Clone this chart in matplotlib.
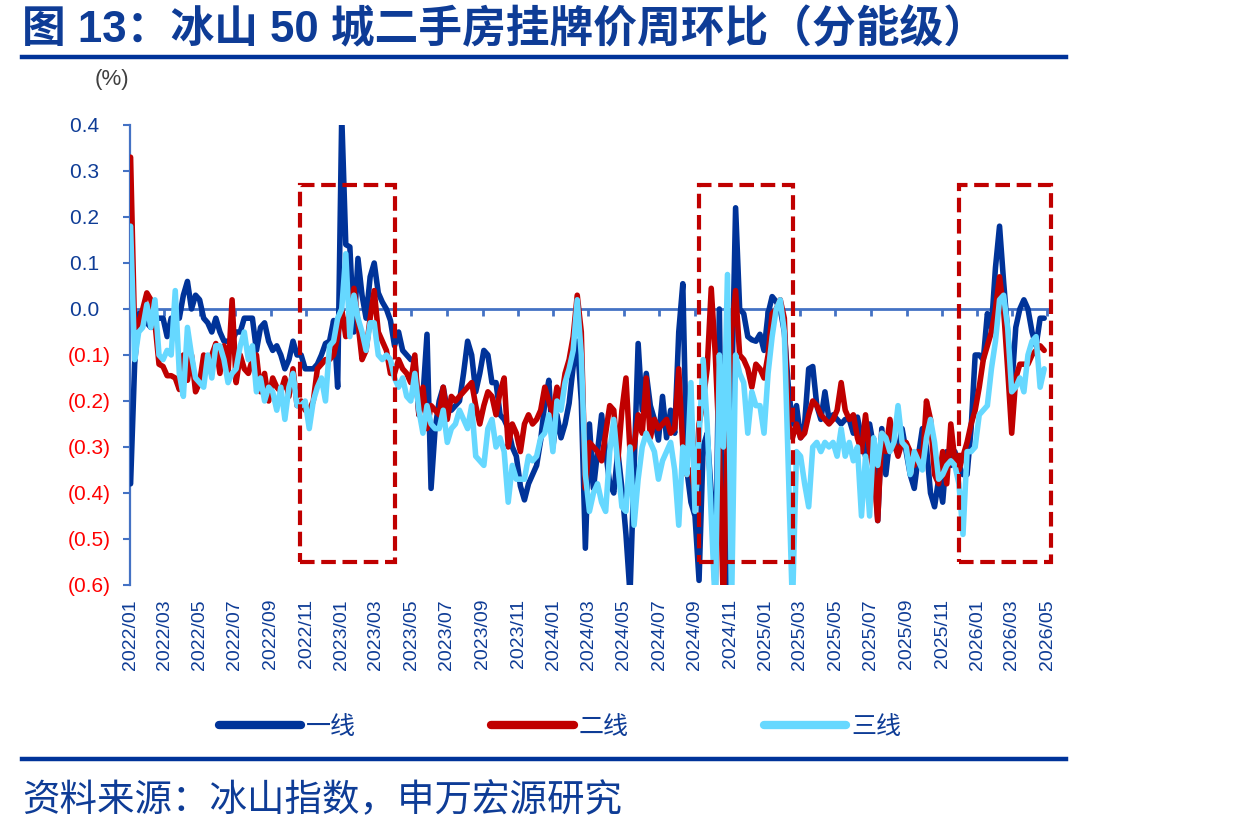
import matplotlib
matplotlib.use("Agg")
import matplotlib.pyplot as plt
import matplotlib.dates as mdates
import numpy as np
import pandas as pd
from matplotlib.patches import Rectangle

plt.rcParams["font.family"] = ["Liberation Sans", "Noto Sans CJK SC", "DejaVu Sans"]
plt.rcParams["axes.unicode_minus"] = False

# 周度数据：2022-01 起，共 226 周（%）
week_start = "2022-01-02"

tier1 = [
    -0.38, -0.12, -0.01, -0.03, -0.03, -0.04, -0.02, -0.02, -0.02, -0.06,
    -0.02, -0.02, -0.02, 0.03, 0.06, 0.00, 0.03, 0.02, -0.02, -0.03,
    -0.05, -0.02, -0.05, -0.07, -0.07, -0.07, -0.05, -0.05, -0.02, -0.02,
    -0.02, -0.09, -0.04, -0.03, -0.07, -0.09, -0.08, -0.10, -0.13, -0.11,
    -0.07, -0.10, -0.10, -0.13, -0.13, -0.13, -0.12, -0.10, -0.075, -0.07,
    -0.025, -0.17, 0.42, 0.14, 0.135, -0.05, 0.11, 0.03, -0.02, 0.07,
    0.10, 0.035, 0.015, 0.00, -0.025, -0.08, -0.05, -0.09, -0.10, -0.11,
    -0.11, -0.23, -0.19, -0.055, -0.39, -0.26, -0.20, -0.17, -0.22, -0.22,
    -0.21, -0.20, -0.14, -0.07, -0.10, -0.18, -0.14, -0.09, -0.10, -0.16,
    -0.16, -0.23, -0.24, -0.26, -0.30, -0.32, -0.385, -0.415, -0.38, -0.36,
    -0.34, -0.285, -0.205, -0.155, -0.30, -0.23, -0.28, -0.25, -0.205, -0.125,
    -0.07, -0.20, -0.52, -0.25, -0.39, -0.31, -0.23, -0.31, -0.38, -0.40,
    -0.31, -0.39, -0.49, -0.62, -0.35, -0.075, -0.22, -0.14, -0.21, -0.24,
    -0.285, -0.19, -0.28, -0.22, -0.27, -0.05, 0.055, -0.35, -0.42, -0.45,
    -0.59, -0.30, -0.27, -0.40, -0.62, 0.00, -0.62, -0.62, -0.20, 0.22,
    0.00, -0.01, -0.06, -0.067, -0.07, -0.055, -0.09, -0.01, 0.027, 0.016,
    0.00, -0.05, -0.17, -0.25, -0.21, -0.28, -0.25, -0.13, -0.125, -0.21,
    -0.24, -0.18, -0.24, -0.23, -0.24, -0.25, -0.24, -0.24, -0.27, -0.235,
    -0.28, -0.32, -0.25, -0.30, -0.46, -0.26, -0.36, -0.28, -0.30, -0.31,
    -0.26, -0.31, -0.36, -0.39, -0.32, -0.26, -0.30, -0.40, -0.43, -0.37,
    -0.42, -0.31, -0.34, -0.31, -0.34, -0.36, -0.36, -0.26, -0.10, -0.10,
    -0.11, -0.01, -0.04, 0.09, 0.18, 0.06, -0.05, -0.17, -0.04, 0.00,
    0.02, 0.00, -0.05, -0.08, -0.02, -0.02,
]

tier2 = [
    0.33, -0.05, -0.03, 0.00, 0.035, 0.02, -0.03, -0.12, -0.125, -0.145,
    -0.145, -0.15, -0.175, -0.10, -0.155, -0.10, -0.18, -0.16, -0.10, -0.13,
    -0.10, -0.075, -0.14, -0.08, -0.14, 0.02, -0.16, -0.10, -0.13, -0.14,
    -0.11, -0.10, -0.18, -0.14, -0.20, -0.15, -0.17, -0.18, -0.15, -0.19,
    -0.13, -0.21, -0.20, -0.22, -0.22, -0.20, -0.13, -0.12, -0.11, -0.11,
    -0.10, -0.06, 0.00, -0.06, 0.00, 0.045, -0.03, -0.11, -0.09, -0.02,
    0.04, -0.05, -0.07, -0.09, -0.14, -0.14, -0.11, -0.13, -0.14, -0.16,
    -0.10, -0.23, -0.17, -0.26, -0.21, -0.22, -0.23, -0.17, -0.24, -0.19,
    -0.20, -0.19, -0.18, -0.17, -0.16, -0.21, -0.25, -0.21, -0.18, -0.19,
    -0.23, -0.18, -0.15, -0.30, -0.25, -0.27, -0.31, -0.25, -0.23, -0.25,
    -0.24, -0.22, -0.17, -0.20, -0.23, -0.17, -0.20, -0.14, -0.11, -0.06,
    0.03, -0.05, -0.39, -0.29, -0.30, -0.31, -0.33, -0.27, -0.21, -0.22,
    -0.33, -0.22, -0.15, -0.31, -0.30, -0.23, -0.27, -0.15, -0.28, -0.24,
    -0.26, -0.25, -0.24, -0.27, -0.26, -0.13, -0.30, -0.36, -0.35, -0.40,
    -0.25, -0.20, -0.13, 0.045, -0.10, -0.30, -0.65, -0.25, -0.05, 0.04,
    -0.10, -0.11, -0.13, -0.17, -0.12, -0.13, -0.15, -0.10, -0.01, 0.00,
    0.02, -0.02, -0.25, -0.28, -0.25, -0.28, -0.27, -0.23, -0.20, -0.21,
    -0.23, -0.24, -0.25, -0.24, -0.22, -0.16, -0.22, -0.24, -0.23, -0.28,
    -0.31, -0.23, -0.31, -0.35, -0.46, -0.27, -0.31, -0.24, -0.29, -0.32,
    -0.29, -0.29, -0.31, -0.34, -0.31, -0.34, -0.20, -0.24, -0.36, -0.38,
    -0.31, -0.38, -0.25, -0.33, -0.35, -0.32, -0.29, -0.25, -0.22, -0.17,
    -0.11, -0.08, -0.05, 0.00, 0.07, 0.00, -0.13, -0.27, -0.15, -0.12,
    -0.12, -0.12, -0.10, -0.09, -0.08, -0.09,
]

tier3 = [
    0.18, -0.11, -0.05, -0.04, 0.01, -0.04, 0.02, -0.10, -0.11, -0.09,
    -0.10, 0.04, -0.14, -0.19, -0.04, -0.10, -0.15, -0.16, -0.17, -0.10,
    -0.15, -0.08, -0.08, -0.11, -0.16, -0.14, -0.13, -0.08, -0.05, -0.11,
    -0.08, -0.18, -0.15, -0.20, -0.17, -0.18, -0.22, -0.17, -0.24, -0.17,
    -0.14, -0.21, -0.21, -0.20, -0.26, -0.20, -0.17, -0.15, -0.20, -0.08,
    -0.07, -0.02, 0.00, 0.12, -0.06, 0.03, -0.02, -0.05, -0.09, -0.03,
    -0.03, -0.10, -0.11, -0.10, -0.11, -0.15, -0.17, -0.15, -0.19, -0.20,
    -0.14, -0.22, -0.27, -0.21, -0.25, -0.26, -0.26, -0.22, -0.29, -0.26,
    -0.25, -0.22, -0.24, -0.26, -0.21, -0.32, -0.33, -0.34, -0.26, -0.24,
    -0.30, -0.28, -0.31, -0.42, -0.34, -0.37, -0.37, -0.37, -0.32, -0.33,
    -0.32, -0.28, -0.27, -0.23, -0.31, -0.20, -0.22, -0.16, -0.13, -0.09,
    0.02, -0.10, -0.36, -0.44, -0.40, -0.38, -0.42, -0.44, -0.31, -0.24,
    -0.34, -0.43, -0.44, -0.30, -0.47, -0.37, -0.30, -0.27, -0.29, -0.31,
    -0.37, -0.33, -0.31, -0.29, -0.35, -0.47, -0.30, -0.36, -0.16, -0.44,
    -0.28, -0.11, -0.25, -0.45, -0.65, -0.10, -0.30, 0.075, -0.65, -0.10,
    -0.14, -0.16, -0.27, -0.18, -0.21, -0.21, -0.27, -0.14, -0.06, 0.00,
    0.02, -0.05, -0.35, -0.65, -0.31, -0.32, -0.38, -0.43, -0.30, -0.29,
    -0.31, -0.29, -0.30, -0.29, -0.32, -0.26, -0.32, -0.29, -0.33, -0.30,
    -0.45, -0.32, -0.45, -0.28, -0.34, -0.27, -0.28, -0.31, -0.29, -0.21,
    -0.29, -0.30, -0.36, -0.31, -0.33, -0.35, -0.28, -0.24, -0.29, -0.37,
    -0.36, -0.34, -0.33, -0.34, -0.38, -0.49, -0.31, -0.31, -0.30, -0.23,
    -0.22, -0.21, -0.13, -0.07, 0.02, 0.03, -0.04, -0.18, -0.17, -0.15,
    -0.18, -0.10, -0.07, -0.06, -0.17, -0.13,
]

series_names = ["一线", "二线", "三线"]
series_colors = ["#003399", "#C00000", "#66D8FF"]

# 红色虚线框标注的三个时段
box_start = ["2022-10-21", "2024-09-08", "2025-11-30"]
box_end = ["2023-04-03", "2025-02-17", "2026-05-08"]
box_top, box_bottom = 0.27, -0.55

NAVY = "#0E3C96"
AXIS_BLUE = "#4472C4"

dates = pd.date_range(week_start, periods=len(tier1), freq="7D")
assert len(tier1) == len(tier2) == len(tier3)

fig = plt.figure(figsize=(12.36, 8.36), dpi=100)
ax = fig.add_axes([130 / 1236, 1 - 585 / 836, 920 / 1236, 460 / 836])

for vals, name, color in zip([tier1, tier2, tier3], series_names, series_colors):
    ax.plot(dates, vals, color=color, lw=4.0, label=name, zorder=3,
            solid_joinstyle="round", solid_capstyle="round")

ax.set_ylim(-0.6, 0.4)
ax.set_xlim(pd.Timestamp("2022-01-01"), pd.Timestamp("2026-05-06"))


def fmt_pct(v):
    if v < 0:
        return f"({abs(v):.1f})"
    return f"{abs(v):.1f}  "


# y 轴
yt = np.round(np.arange(-0.6, 0.41, 0.1), 1)
ax.set_yticks(yt)
ax.set_yticklabels([fmt_pct(v) for v in yt])
for lab, v in zip(ax.get_yticklabels(), yt):
    lab.set_color(NAVY if v >= 0 else "#FF0000")
ax.tick_params(axis="y", direction="out", length=5, width=1.5, color=AXIS_BLUE,
               labelsize=15, pad=9)
ax.spines["left"].set_color(AXIS_BLUE)
ax.spines["left"].set_linewidth(1.6)
ax.spines["top"].set_visible(False)
ax.spines["right"].set_visible(False)

# 零轴带刻度，标签放在底部
ax.spines["bottom"].set_position(("data", 0))
ax.spines["bottom"].set_color(AXIS_BLUE)
ax.spines["bottom"].set_linewidth(2)
ax.spines["bottom"].set_zorder(2)
ax.xaxis.set_major_locator(mdates.MonthLocator(bymonth=[1, 3, 5, 7, 9, 11]))
ax.tick_params(axis="x", labelbottom=False, direction="out", length=5, width=2,
               color=AXIS_BLUE)

sec = ax.secondary_xaxis("bottom")
sec.xaxis.set_major_locator(mdates.MonthLocator(bymonth=[1, 3, 5, 7, 9, 11]))
sec.xaxis.set_major_formatter(mdates.DateFormatter("%Y/%m"))
sec.tick_params(length=0, pad=10, labelsize=14, labelcolor=NAVY, rotation=90)
sec.spines["bottom"].set_visible(False)

for s, e in zip(box_start, box_end):
    x0 = mdates.date2num(pd.Timestamp(s))
    x1 = mdates.date2num(pd.Timestamp(e))
    ax.add_patch(Rectangle((x0, box_bottom), x1 - x0, box_top - box_bottom,
                           fill=False, ec="#C00000", lw=3, ls=(0, (3.5, 1.6)),
                           clip_on=False, zorder=5))

# 标题、单位、图例、来源
fig.text(22 / 1236, 1 - 30 / 836, "图 13：冰山 50 城二手房挂牌价周环比（分能级）",
         fontsize=31.5, fontweight="bold", color=NAVY, va="center", ha="left")
fig.add_artist(plt.Line2D([22 / 1236, 1066 / 1236], [1 - 57 / 836] * 2,
                          color="#003399", lw=3.2))
fig.text(112 / 1236, 1 - 80 / 836, "(%)", fontsize=16, color="#404040",
         va="center", ha="center")

handles, labels = ax.get_legend_handles_labels()
leg = fig.legend(handles, labels, loc="center", bbox_to_anchor=(560 / 1236, 1 - 727 / 836),
                 ncol=3, frameon=False, fontsize=18, handlelength=3.3,
                 columnspacing=5.4, handletextpad=0.2, labelcolor=NAVY)
for h in leg.legend_handles:
    h.set_linewidth(6)

fig.add_artist(plt.Line2D([22 / 1236, 1066 / 1236], [1 - 759 / 836] * 2,
                          color="#003399", lw=3.2))
fig.text(22 / 1236, 1 - 801 / 836, "资料来源：冰山指数，申万宏源研究",
         fontsize=27, color=NAVY, va="center", ha="left")

fig.savefig("out.png", dpi=100)
